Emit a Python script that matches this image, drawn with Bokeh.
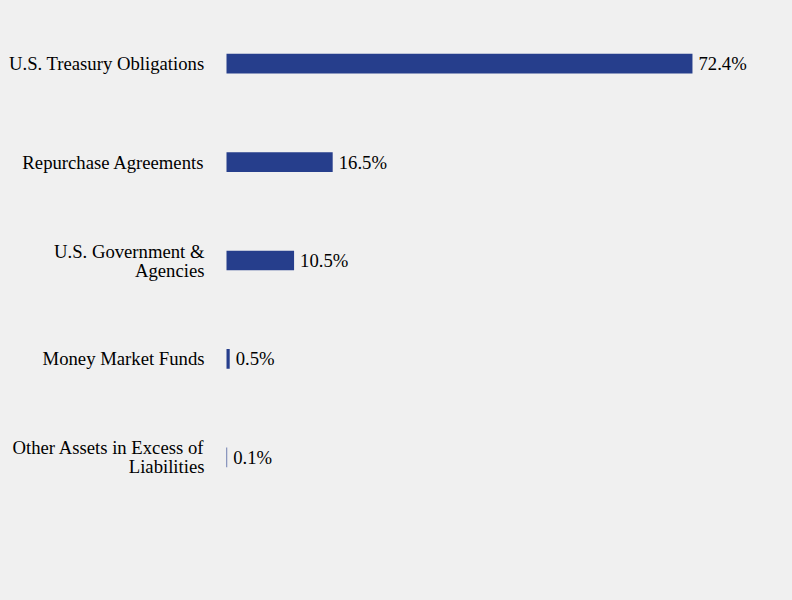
from bokeh.plotting import figure
from bokeh.models import Range1d, FactorRange, ColumnDataSource
from bokeh.core.properties import value
from bokeh.embed import file_html
from bokeh.resources import INLINE

categories = [
    "U.S. Treasury Obligations",
    "Repurchase Agreements",
    "U.S. Government &\nAgencies",
    "Money Market Funds",
    "Other Assets in Excess of\nLiabilities",
]
values = [72.4, 16.5, 10.5, 0.5, 0.1]
value_labels = ["72.4%", "16.5%", "10.5%", "0.5%", "0.1%"]

BG = "#f0f0f0"
BAR = "#263e8c"
FONT = "Liberation Serif"
FSIZE = "18.7px"
LINE_PX = 19.0        # spacing between lines of a wrapped category label

W, H = 792, 600
BAR_X0 = 226          # pixel where the bars start
PX_PER_UNIT = 6.436   # pixels per percentage point

src = ColumnDataSource(dict(cat=categories, val=values, lab=value_labels))

# split wrapped category labels into separate lines, each tied to its category
line_cat, line_txt, line_off = [], [], []
for c in categories:
    parts = c.split("\n")
    n = len(parts)
    for j, t in enumerate(parts):
        line_cat.append(c)
        line_txt.append(t)
        line_off.append((j - (n - 1) / 2) * LINE_PX)
lsrc = ColumnDataSource(dict(cat=line_cat, txt=line_txt, off=line_off,
                             zero=[0] * len(line_cat)))

p = figure(
    width=W, height=H,
    y_range=FactorRange(factors=list(reversed(categories)), range_padding=0),
    x_range=Range1d(-BAR_X0 / PX_PER_UNIT, (W - BAR_X0) / PX_PER_UNIT),
    output_backend="svg", toolbar_location=None,
    min_border_left=0, min_border_right=0,
    min_border_top=14, min_border_bottom=94,
)
p.background_fill_color = BG
p.border_fill_color = BG
p.outline_line_color = None
p.grid.visible = False
p.xaxis.visible = False
p.yaxis.visible = False

p.hbar(y="cat", right="val", left=0, height=0.2, source=src,
       fill_color=BAR, line_color=None)

p.text(x="val", y="cat", text="lab", source=src, x_offset=6,
       text_align="left", text_baseline="middle",
       text_font=value(FONT), text_font_size=FSIZE, text_color="#000000")

p.text(x="zero", y="cat", text="txt", source=lsrc, x_offset=-22, y_offset="off",
       text_align="right", text_baseline="middle",
       text_font=value(FONT), text_font_size=FSIZE, text_color="#000000")

html = file_html(p, INLINE)
html = html.replace("</head>", "<style>body{background:#f0f0f0;margin:0;}</style></head>")
open("out.html", "w").write(html)
